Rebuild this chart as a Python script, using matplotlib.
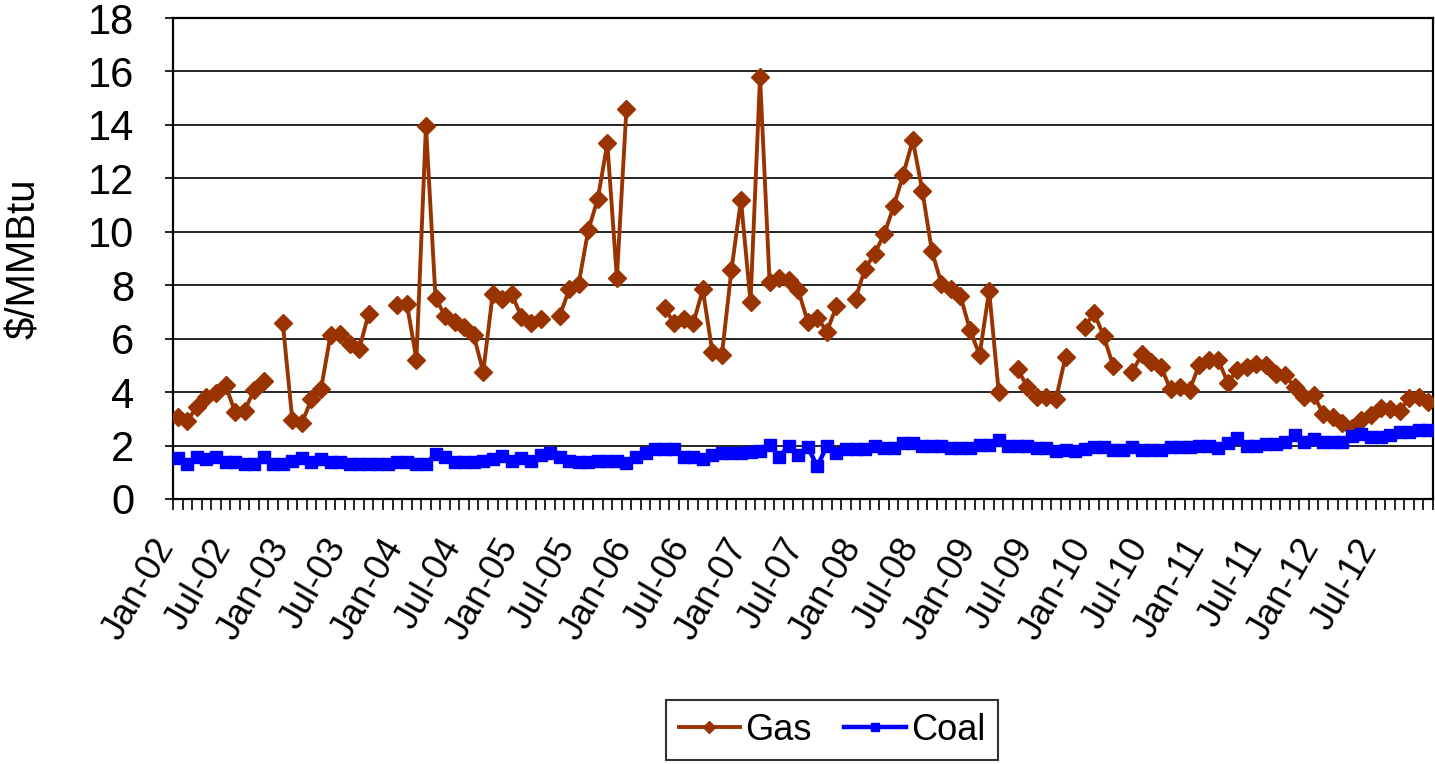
import matplotlib.pyplot as plt
import matplotlib.transforms as mtransforms
import numpy as np

plt.rcParams['font.family'] = ['Liberation Sans', 'DejaVu Sans']

nan = np.nan

# monthly, Jan-02 .. Dec-12
months = [f"{m}-{y:02d}" for y in range(2, 13)
          for m in ["Jan", "Feb", "Mar", "Apr", "May", "Jun",
                    "Jul", "Aug", "Sep", "Oct", "Nov", "Dec"]]

gas = [3.08, 2.92, 3.46, 3.80, 3.95, 4.25, 3.27, 3.30, 4.08, 4.43, nan, 6.59,
       2.96, 2.84, 3.73, 4.10, 6.13, 6.19, 5.80, 5.60, 6.94, nan, nan, 7.25,
       7.31, 5.22, 13.97, 7.54, 6.84, 6.63, 6.44, 6.13, 4.76, 7.69, 7.50, 7.66,
       6.82, 6.59, 6.72, nan, 6.84, 7.84, 8.06, 10.05, 11.23, 13.31, 8.28, 14.59,
       nan, nan, nan, 7.15, 6.57, 6.72, 6.57, 7.84, 5.51, 5.39, 8.56, 11.19,
       7.38, 15.80, 8.12, 8.28, 8.20, 7.81, 6.63, 6.79, 6.26, 7.21, nan, 7.50,
       8.62, 9.18, 9.90, 10.95, 12.14, 13.43, 11.54, 9.28, 8.06, 7.87, 7.59, 6.32,
       5.39, 7.79, 4.02, nan, 4.85, 4.20, 3.81, 3.81, 3.73, 5.32, nan, 6.42,
       6.97, 6.09, 4.98, nan, 4.76, 5.42, 5.14, 4.95, 4.10, 4.18, 4.08, 5.01,
       5.20, 5.20, 4.35, 4.83, 4.95, 5.07, 5.01, 4.68, 4.64, 4.18, 3.81, 3.89,
       3.18, 3.08, 2.84, 2.65, 2.96, 3.15, 3.40, 3.36, 3.31, 3.77, 3.83, 3.64]

coal = [1.53, 1.32, 1.59, 1.49, 1.59, 1.40, 1.40, 1.32, 1.32, 1.59, 1.32, 1.32,
        1.44, 1.53, 1.40, 1.49, 1.40, 1.40, 1.32, 1.32, 1.32, 1.32, 1.32, 1.40,
        1.40, 1.32, 1.32, 1.68, 1.59, 1.40, 1.40, 1.40, 1.44, 1.49, 1.62, 1.44,
        1.53, 1.44, 1.65, 1.74, 1.57, 1.44, 1.37, 1.37, 1.44, 1.44, 1.44, 1.34,
        1.59, 1.72, 1.87, 1.87, 1.87, 1.59, 1.59, 1.49, 1.65, 1.72, 1.72, 1.72,
        1.75, 1.78, 2.03, 1.59, 1.97, 1.65, 1.94, 1.22, 1.99, 1.72, 1.87, 1.87,
        1.87, 1.97, 1.90, 1.90, 2.11, 2.11, 1.99, 1.99, 1.99, 1.90, 1.90, 1.90,
        2.03, 2.03, 2.20, 1.97, 1.97, 1.97, 1.90, 1.90, 1.78, 1.84, 1.78, 1.87,
        1.94, 1.94, 1.84, 1.84, 1.94, 1.84, 1.84, 1.84, 1.94, 1.94, 1.94, 1.99,
        1.99, 1.90, 2.09, 2.28, 1.97, 1.97, 2.06, 2.06, 2.15, 2.40, 2.15, 2.24,
        2.15, 2.15, 2.15, 2.34, 2.44, 2.31, 2.31, 2.40, 2.49, 2.49, 2.59, 2.59]

x = np.arange(len(months))

fig = plt.figure(figsize=(14.35, 7.64), dpi=100)
ax = fig.add_axes([173 / 1435, 1 - 499 / 764, 1260 / 1435, 481 / 764])

ax.plot(x, gas, color="#993300", lw=2.8, marker="D", ms=9, label="Gas", zorder=3)
ax.plot(x, coal, color="#0000FF", lw=3.2, marker="s", ms=8.5, label="Coal", zorder=3)

ax.set_ylim(0, 18)
ax.set_yticks(range(0, 19, 2))
ax.grid(axis="y", color="black", lw=1.2)
ax.set_axisbelow(True)

ax.set_xlim(-0.5, len(months) - 0.5)
ax.set_xticks(x[::6])
ax.set_xticklabels(months[::6], rotation=60, ha="right", va="bottom",
                   rotation_mode="anchor")
ax.set_xticks(np.arange(len(months) + 1) - 0.5, minor=True)
ax.tick_params(axis="x", which="major", length=0, labelsize=26, pad=37)
ax.tick_params(axis="x", which="minor", length=8, width=1.2, direction="out")
ax.tick_params(axis="y", length=6, width=1.2, labelsize=30, pad=22)

# nudge the rotated month labels a little to the right
shift = mtransforms.ScaledTranslation(4 / 100, 0, fig.dpi_scale_trans)
for lab in ax.get_xticklabels():
    lab.set_transform(lab.get_transform() + shift)

for s in ax.spines.values():
    s.set_linewidth(1.6)
    s.set_color("black")

ax.set_ylabel("$/MMBtu", fontsize=29)
ax.yaxis.set_label_coords(-130 / 1260, 0.5)

fig.legend(loc="center", bbox_to_anchor=(832 / 1435, 1 - 730 / 764), ncol=2,
           fontsize=26, frameon=True, fancybox=False, edgecolor="black",
           handlelength=1.7, handletextpad=0.15, columnspacing=0.9,
           borderpad=0.35, markerscale=0.7).get_frame().set_linewidth(1.5)

fig.savefig("out.png", dpi=100)
